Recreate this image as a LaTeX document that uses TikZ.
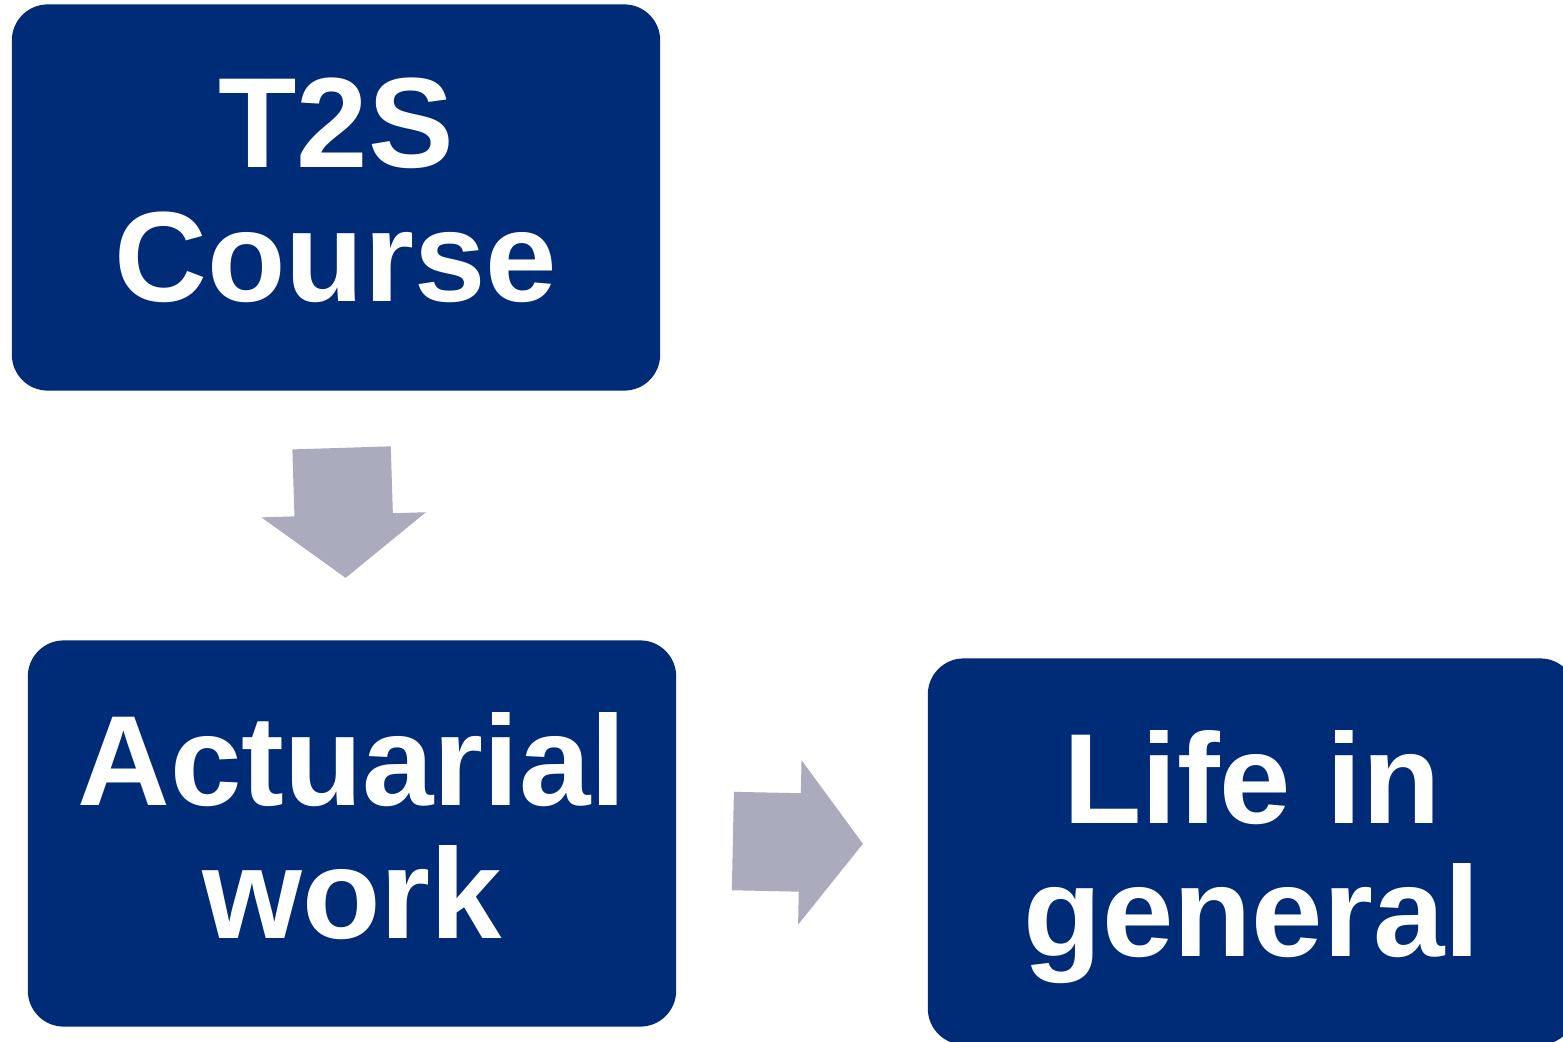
\documentclass[tikz,border=0pt]{standalone}
\usepackage{fontspec}
\setmainfont{Liberation Sans}
\usepackage{tikz}
\usetikzlibrary{shapes.arrows}
\definecolor{boxblue}{RGB}{0,43,119}
\definecolor{arrowgray}{RGB}{170,171,189}

\begin{document}
\begin{tikzpicture}[x=0.01cm,y=-0.01cm]
\useasboundingbox (0,0) rectangle (1563,1042);
\clip (0,0) rectangle (1563,1042);
\begin{scope}[every node/.style={rectangle,rounded corners=0.36cm,fill=boxblue,text=white,
              font=\fontsize{36.5}{38}\selectfont\bfseries,align=center,text depth=0.16cm,
              minimum width=6.48cm,minimum height=3.86cm,inner sep=0pt}]
    \node (T2S) at (336,197.5) {T2S\\Course};
    \node (Work) at (352,833.5) {Actuarial\\work};
    \node (Life) at (1252,851.5) {Life in\\general};
\end{scope}

\begin{scope}[every node/.style={single arrow,fill=arrowgray,inner xsep=0pt,inner ysep=0.485cm,
              minimum height=1.3cm,
              single arrow head extend=0.33cm,single arrow tip angle=105}]
    \node[rotate=-88.2] (Down) at (343,494) {};
    \node[rotate=-1.2] (Right) at (779,842) {};
\end{scope}
\end{tikzpicture}
\end{document}
